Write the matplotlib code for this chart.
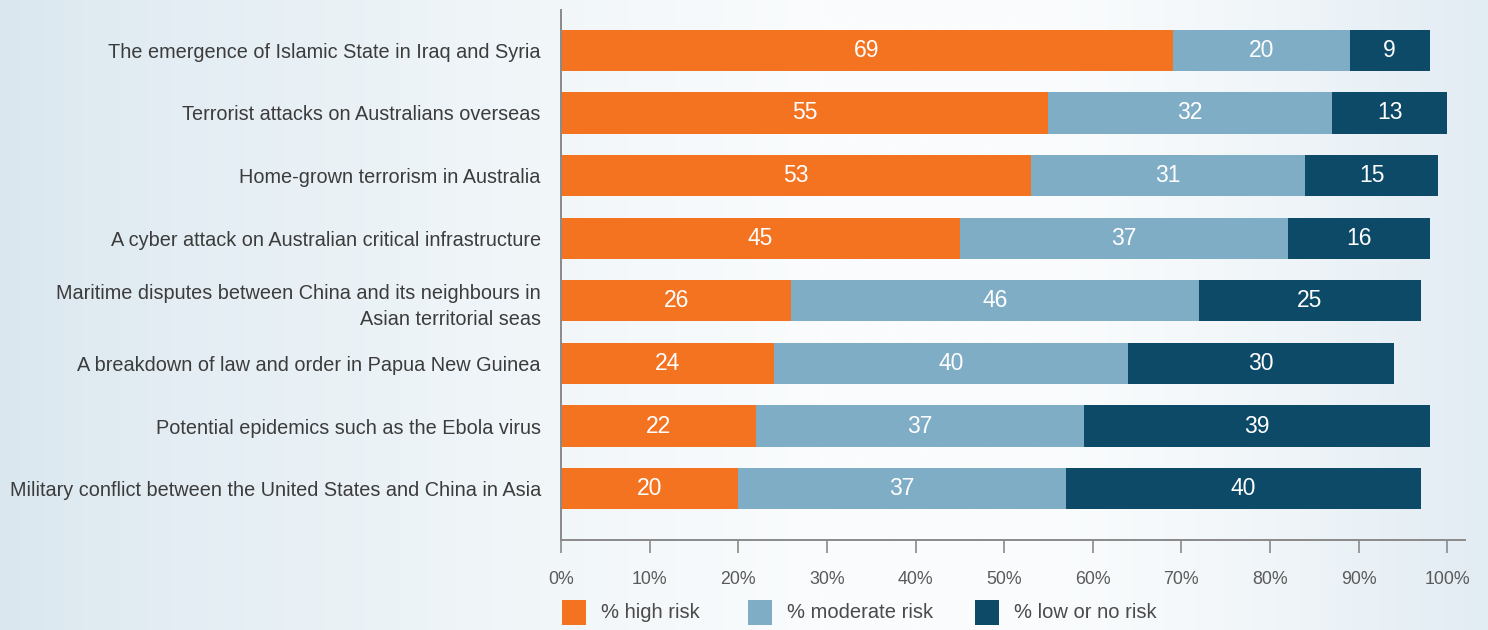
import numpy as np
import matplotlib
matplotlib.use("Agg")
import matplotlib.pyplot as plt
from matplotlib.patches import Rectangle

plt.rcParams['font.family'] = ['Liberation Sans', 'DejaVu Sans']

categories = [
    "The emergence of Islamic State in Iraq and Syria",
    "Terrorist attacks on Australians overseas",
    "Home-grown terrorism in Australia",
    "A cyber attack on Australian critical infrastructure",
    "Maritime disputes between China and its neighbours in\nAsian territorial seas",
    "A breakdown of law and order in Papua New Guinea",
    "Potential epidemics such as the Ebola virus",
    "Military conflict between the United States and China in Asia",
]
high_risk = [69, 55, 53, 45, 26, 24, 22, 20]
moderate_risk = [20, 32, 31, 37, 46, 40, 37, 37]
low_risk = [9, 13, 15, 16, 25, 30, 39, 40]
series_names = ["% high risk", "% moderate risk", "% low or no risk"]
colors = ["#f47321", "#7fadc6", "#0d4a68"]
tick_values = list(range(0, 101, 10))
tick_labels = [f"{v}%" for v in tick_values]

W, H = 1488, 630
fig = plt.figure(figsize=(W / 100, H / 100), dpi=100)

# soft horizontal background wash
bg = fig.add_axes([0, 0, 1, 1], zorder=-10)
bg.axis("off")
xs = np.linspace(0, 1, 400)
left_c = np.array([218, 231, 239]) / 255
mid_c = np.array([250, 252, 253]) / 255
right_c = np.array([226, 236, 243]) / 255
t_left = np.clip(xs / 0.55, 0, 1) ** 0.8
t_right = np.clip((xs - 0.70) / 0.30, 0, 1) ** 1.3
row = (left_c[None, :] * (1 - t_left[:, None]) + mid_c[None, :] * t_left[:, None])
row = row * (1 - t_right[:, None]) + right_c[None, :] * t_right[:, None]
img = np.repeat(row[None, :, :], 2, axis=0)
bg.imshow(img, aspect="auto", extent=[0, 1, 0, 1], interpolation="bilinear")
bg.set_xlim(0, 1)
bg.set_ylim(0, 1)

ax_left = 561 / W
ax_right = 1465 / W
ax_top = 1 - 10 / H
ax_bottom = 1 - 540 / H
ax = fig.add_axes([ax_left, ax_bottom, ax_right - ax_left, ax_top - ax_bottom])
ax.patch.set_alpha(0)

y = np.arange(len(categories))
bar_h = 0.66
lefts = np.zeros(len(categories))
for vals, col in zip([high_risk, moderate_risk, low_risk], colors):
    vals = np.array(vals, dtype=float)
    ax.barh(y, vals, left=lefts, height=bar_h, color=col, edgecolor="none")
    for yi, l, v in zip(y, lefts, vals):
        ax.text(l + v / 2, yi, f"{int(v)}", ha="center", va="center",
                color="white", fontsize=16.5)
    lefts = lefts + vals

ax.set_xlim(0, 102)
ax.set_ylim(7.82, -0.645)
ax.set_yticks(y)
ax.set_yticklabels(categories, fontsize=14.3, color="#3c3c3c", linespacing=1.45)
ax.tick_params(axis="y", length=0, pad=14.5)
ax.set_xticks(tick_values)
ax.set_xticklabels(tick_labels, fontsize=12.8, color="#5a5a5a")
ax.tick_params(axis="x", length=9, width=1.2, color="#8a8a8a", pad=13)
for s in ["top", "right"]:
    ax.spines[s].set_visible(False)
for s in ["left", "bottom"]:
    ax.spines[s].set_color("#8a8a8a")
    ax.spines[s].set_linewidth(1.4)

# legend row below the axis
legend_x = [562, 748, 975]
for name, col, lx in zip(series_names, colors, legend_x):
    fig.add_artist(Rectangle((lx / W, 1 - 625 / H), 24 / W, 25 / H,
                             transform=fig.transFigure, color=col, lw=0))
    fig.text((lx + 39) / W, 1 - 612 / H, name, fontsize=14.5,
             color="#4a4a4a", va="center", ha="left")

fig.savefig("out.png", dpi=100)
